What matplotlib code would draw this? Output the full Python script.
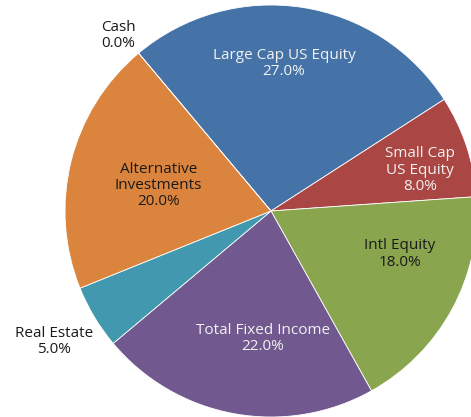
import numpy as np
import matplotlib
matplotlib.use('Agg')
import matplotlib.pyplot as plt

# asset allocation (percent)
labels = ['Large Cap US Equity', 'Small Cap\nUS Equity', 'Intl Equity', 'Total Fixed Income',
          'Real Estate', 'Alternative\nInvestments', 'Cash']
values = [27.0, 8.0, 18.0, 22.0, 5.0, 20.0, 0.0]
colors = ['#4572A7', '#AA4643', '#89A54E', '#71588F', '#4198AF', '#DB843D', '#808080']

# label placement: distance from centre (in radii), angle tweak (deg), text colour
lab_dist = [0.72, 0.75, 0.66, 0.62, 1.23, 0.56, 1.13]
lab_turn = [3.6, -3.1, 9.9, 6.7, 0, 1.3, 1]
lab_col = ['#F2F2F2', '#F2F2F2', '#1A1A1A', '#F2F2F2', '#1A1A1A', '#1A1A1A', '#1A1A1A']

W, H = 471, 417
fig = plt.figure(figsize=(W / 100, H / 100), dpi=100)
ax = fig.add_axes([0, 0, 1, 1])

cx, cy, r = 271, 206, 206  # pixel centre (from bottom) and radius
wedges, _ = ax.pie(values, colors=colors, startangle=130, counterclock=False, radius=1,
                   wedgeprops=dict(edgecolor='white', linewidth=0.6))

start = 130
for lab, v, d, t, c in zip(labels, values, lab_dist, lab_turn, lab_col):
    mid = start - v * 3.6 / 2
    start -= v * 3.6
    a = np.deg2rad(mid + t)
    ax.text(d * np.cos(a), d * np.sin(a), f'{lab}\n{v:.1f}%', ha='center', va='center',
            color=c, fontsize=11, family='Open Sans', linespacing=1.12)

ax.set_xlim(-cx / r, (W - cx) / r)
ax.set_ylim(-cy / r, (H - cy) / r)
ax.set_aspect('auto')
ax.axis('off')

fig.savefig('out.png', dpi=100)
